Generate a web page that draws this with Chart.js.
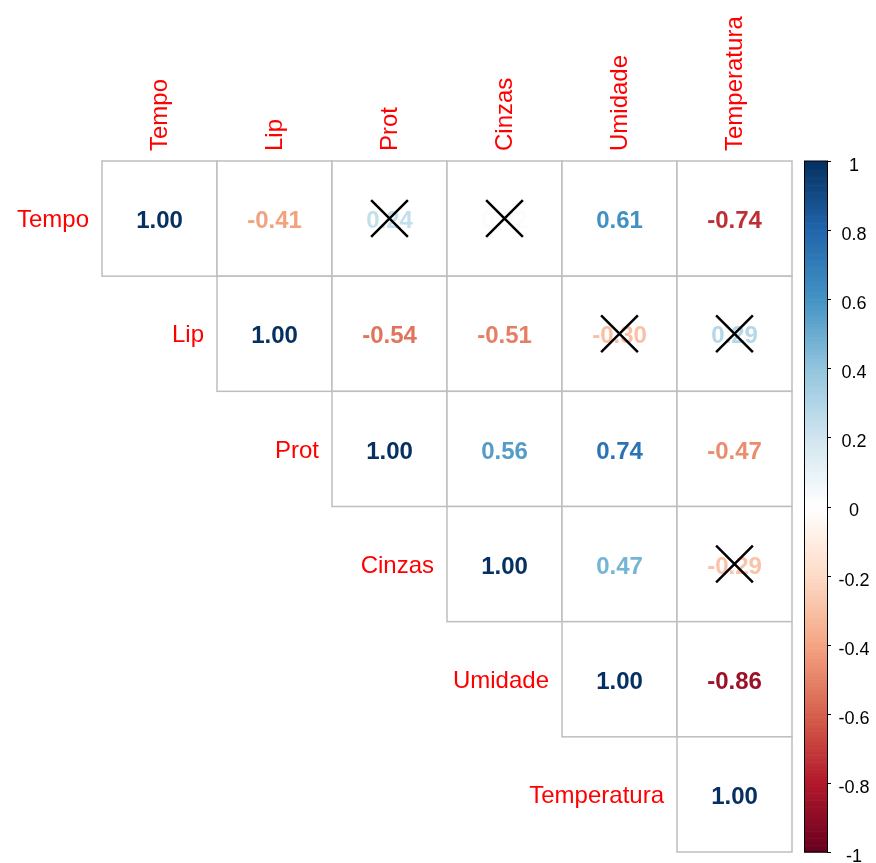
<!DOCTYPE html>
<html>
<head>
<meta charset="utf-8">
<script src="https://cdn.jsdelivr.net/npm/chart.js@4.4.0/dist/chart.umd.min.js"></script>
<style>
  html, body { margin: 0; padding: 0; background: #fff; overflow: hidden; }
  #wrap { width: 876px; height: 863px; }
  canvas { display: block; }
</style>
</head>
<body>
<div id="wrap"><canvas id="corr" width="876" height="863"></canvas></div>
<script>
// Variables (same order on both axes)
const variables = ['Tempo', 'Lip', 'Prot', 'Cinzas', 'Umidade', 'Temperatura'];

// Correlation rows
const rowTempo       = [ 1.00, -0.41,  0.24,  0.02,  0.61, -0.74];
const rowLip         = [-0.41,  1.00, -0.54, -0.51, -0.30,  0.29];
const rowProt        = [ 0.24, -0.54,  1.00,  0.56,  0.74, -0.47];
const rowCinzas      = [ 0.02, -0.51,  0.56,  1.00,  0.47, -0.29];
const rowUmidade     = [ 0.61, -0.30,  0.74,  0.47,  1.00, -0.86];
const rowTemperatura = [-0.74,  0.29, -0.47, -0.29, -0.86,  1.00];
const corrRows = [rowTempo, rowLip, rowProt, rowCinzas, rowUmidade, rowTemperatura];

// Pairs marked as not significant (crossed out)
const crossedPairs = [
  ['Tempo', 'Prot'],
  ['Tempo', 'Cinzas'],
  ['Lip', 'Umidade'],
  ['Lip', 'Temperatura'],
  ['Cinzas', 'Temperatura']
];

// Colour bar range and tick labels
const colorbarMin = -1;
const colorbarMax = 1;
const colorbarTicks = [1, 0.8, 0.6, 0.4, 0.2, 0, -0.2, -0.4, -0.6, -0.8, -1];

// RdBu palette from -1 to 1
const rdbu = ['#67001F', '#B2182B', '#D6604D', '#F4A582', '#FDDBC7', '#FFFFFF',
              '#D1E5F0', '#92C5DE', '#4393C3', '#2166AC', '#053061'];

const FONT = "'Liberation Sans', Arial, Helvetica, sans-serif";

function hexToRgb(h) {
  return [parseInt(h.slice(1, 3), 16), parseInt(h.slice(3, 5), 16), parseInt(h.slice(5, 7), 16)];
}

function corrColor(v) {
  const t = (Math.max(-1, Math.min(1, v)) + 1) / 2 * (rdbu.length - 1);
  const i = Math.min(Math.floor(t), rdbu.length - 2);
  const f = t - i;
  const a = hexToRgb(rdbu[i]);
  const b = hexToRgb(rdbu[i + 1]);
  const c = a.map((x, k) => Math.round(x + (b[k] - x) * f));
  return `rgb(${c[0]}, ${c[1]}, ${c[2]})`;
}

// Upper triangle cells (row i, col j >= i)
const cellPoints = [];
corrRows.forEach((row, i) => {
  row.forEach((v, j) => {
    if (j >= i) cellPoints.push({ x: j + 0.5, y: i + 0.5, v: v });
  });
});

const crossPoints = crossedPairs.map(([r, c]) => ({
  x: variables.indexOf(c) + 0.5,
  y: variables.indexOf(r) + 0.5
}));

const corrplotPlugin = {
  id: 'corrplot',
  beforeDatasetsDraw(chart) {
    const ctx = chart.ctx;
    const xs = chart.scales.x;
    const ys = chart.scales.y;
    const cb = chart.scales.cb;

    // cells
    ctx.save();
    cellPoints.forEach(p => {
      const x0 = xs.getPixelForValue(p.x - 0.5);
      const x1 = xs.getPixelForValue(p.x + 0.5);
      const y0 = ys.getPixelForValue(p.y - 0.5);
      const y1 = ys.getPixelForValue(p.y + 0.5);
      ctx.fillStyle = '#ffffff';
      ctx.fillRect(x0, y0, x1 - x0, y1 - y0);
      ctx.strokeStyle = '#BEBEBE';
      ctx.lineWidth = 1.5;
      ctx.strokeRect(x0, y0, x1 - x0, y1 - y0);
    });

    // numbers
    ctx.font = `bold 24px ${FONT}`;
    ctx.textAlign = 'center';
    ctx.textBaseline = 'middle';
    cellPoints.forEach(p => {
      ctx.fillStyle = corrColor(p.v);
      ctx.fillText(p.v.toFixed(2), xs.getPixelForValue(p.x), ys.getPixelForValue(p.y) + 3);
    });

    // colour bar
    const bx0 = 804, bx1 = 827;
    const n = 200;
    for (let k = 0; k < n; k++) {
      const va = colorbarMin + (colorbarMax - colorbarMin) * k / n;
      const vb = colorbarMin + (colorbarMax - colorbarMin) * (k + 1) / n;
      const ya = cb.getPixelForValue(va);
      const yb = cb.getPixelForValue(vb);
      ctx.fillStyle = corrColor((va + vb) / 2);
      ctx.fillRect(bx0, yb, bx1 - bx0, ya - yb + 0.6);
    }
    ctx.strokeStyle = '#000';
    ctx.lineWidth = 1;
    const top = cb.getPixelForValue(colorbarMax);
    const bot = cb.getPixelForValue(colorbarMin);
    ctx.strokeRect(bx0 + 0.5, top, bx1 - bx0, bot - top);
    ctx.beginPath();
    colorbarTicks.forEach(t => {
      const y = Math.round(cb.getPixelForValue(t)) + 0.5;
      ctx.moveTo(bx1, y);
      ctx.lineTo(bx1 + 4, y);
    });
    ctx.stroke();

    // colour bar tick labels
    ctx.fillStyle = '#000';
    ctx.font = `18px ${FONT}`;
    ctx.textAlign = 'center';
    ctx.textBaseline = 'middle';
    colorbarTicks.forEach(t => {
      ctx.fillText(String(t), 854, cb.getPixelForValue(t) + 5);
    });
    ctx.restore();
  },
  afterDraw(chart) {
    const ctx = chart.ctx;
    const xs = chart.scales.x;
    const ys = chart.scales.y;
    ctx.save();
    ctx.fillStyle = '#FF0000';
    ctx.font = `24px ${FONT}`;

    // row labels, to the left of the diagonal cell
    ctx.textAlign = 'right';
    ctx.textBaseline = 'middle';
    variables.forEach((name, i) => {
      ctx.fillText(name, xs.getPixelForValue(i) - 13, ys.getPixelForValue(i + 0.5) + 2);
    });

    // column labels, rotated above the grid
    ctx.textAlign = 'left';
    variables.forEach((name, j) => {
      ctx.save();
      ctx.translate(xs.getPixelForValue(j + 0.5) + 1, ys.getPixelForValue(0) - 10);
      ctx.rotate(-Math.PI / 2);
      ctx.fillText(name, 0, 0);
      ctx.restore();
    });
    ctx.restore();
  }
};

new Chart(document.getElementById('corr'), {
  type: 'scatter',
  data: {
    datasets: [
      {
        label: 'cells',
        data: cellPoints,
        pointRadius: 0,
        pointHoverRadius: 0
      },
      {
        label: 'not significant',
        data: crossPoints,
        pointStyle: 'crossRot',
        pointRadius: 26,
        pointHoverRadius: 26,
        borderColor: '#000000',
        borderWidth: 2.5,
        backgroundColor: '#000000'
      }
    ]
  },
  options: {
    responsive: false,
    animation: false,
    events: [],
    layout: {
      autoPadding: false,
      padding: { left: 102, top: 161, bottom: 11, right: 84 }
    },
    plugins: {
      legend: { display: false },
      tooltip: { enabled: false }
    },
    scales: {
      x: { type: 'linear', min: 0, max: 6, display: false },
      y: { type: 'linear', min: 0, max: 6, reverse: true, display: false },
      cb: {
        type: 'linear',
        position: 'right',
        min: colorbarMin,
        max: colorbarMax,
        display: false
      }
    }
  },
  plugins: [corrplotPlugin]
});
</script>
</body>
</html>
